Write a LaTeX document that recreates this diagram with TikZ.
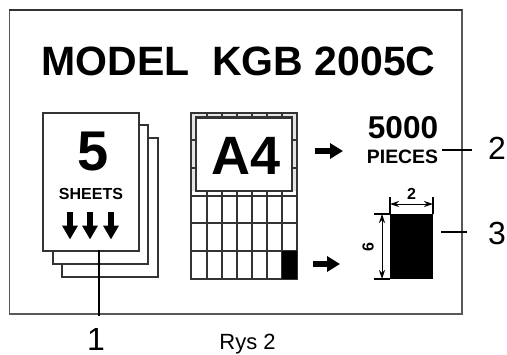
\documentclass[tikz,border=0pt]{standalone}
\usepackage{fontspec}
\setmainfont{Liberation Sans}
\usetikzlibrary{arrows.meta}
\begin{document}
\begin{tikzpicture}[%
    x=0.5pt,
    y=-0.5pt,
    line width=0.9pt,
    sheetbox/.style={draw=black!80, fill=white, line width=1.1pt},
    gridline/.style={draw=black!80, line width=1pt},
    blockarrow/.style={line width=3pt, -{Triangle[length=6.5pt, width=7.5pt]}},
    downarrow/.style={line width=3pt, -{Triangle[length=7pt, width=7.5pt]}},
    dimline/.style={line width=0.5pt, {Stealth[length=4.5pt, width=3pt]}-{Stealth[length=4.5pt, width=3pt]}},
    extline/.style={line width=0.6pt},
    bigtext/.style={inner sep=0pt, font=\fontsize{#1}{#1}\selectfont\bfseries},
    numtext/.style={inner sep=0pt, font=\fontsize{16}{16}\selectfont}
]
    % Fixes the size of the page.
    \useasboundingbox (0,0) rectangle (507,354);

    % Outer frame.
    \draw[draw=black!65, line width=0.8pt] (9.5,10) rectangle (462,314);
    \draw[draw=black!80, line width=1pt] (9,10) -- (462,10);

    % Title.
    \node[bigtext=20.5] (title) at (238.5,61.5) {MODEL\ \ KGB 2005C};

    % Stack of sheets, back to front.
    \draw[sheetbox] (62,138) rectangle (158,277);
    \draw[sheetbox] (53,125) rectangle (148,264);
    \draw[sheetbox] (43,113) rectangle (139,251);
    \coordinate (sheetfoot) at (99,250);

    \node[bigtext=28] (five) at (93,152) {5};
    \node[bigtext=8] (sheets) at (91,194) {SHEETS};

    % Three arrows below the word.
    \draw[downarrow] (70,212) -- (70,239.5);
    \draw[downarrow] (90,212) -- (90,239.5);
    \draw[downarrow] (111,212) -- (111,239.5);

    % Grey margin of the cutting grid.
    \fill[black!10] (191,113) rectangle (297,191);

    % Cutting grid.
    \draw[gridline] (191,113) rectangle (297,279);
    \draw[gridline] (207,113) -- (207,279)
                    (222,113) -- (222,279)
                    (237,113) -- (237,279)
                    (252,113) -- (252,279)
                    (267,113) -- (267,279)
                    (282,113) -- (282,279);
    \draw[gridline] (191,196) -- (297,196)
                    (191,223) -- (297,223)
                    (191,251) -- (297,251)
                    (191,140) -- (297,140)
                    (191,168) -- (297,168);

    % Large sheet on top of the grid.
    \draw[sheetbox] (196,117.5) rectangle (292,191);
    \node[bigtext=27] (afour) at (246,156) {A4};

    % Black piece in the corner of the grid.
    \fill[black] (282,251) rectangle (297,279);

    % Arrows to the results.
    \draw[blockarrow] (315,151) -- (343,151);
    \draw[blockarrow] (313,264) -- (340,264);

    % Count of pieces.
    \node[bigtext=15.8] (count) at (403,127.5) {5000};
    \node[bigtext=9.7] (pieces) at (402.5,157) {PIECES};

    % Single piece with its sizes.
    \fill[black] (390,214) rectangle (433,279);
    \draw[extline] (390,197) -- (390,214)
                   (433,197) -- (433,214)
                   (374,214) -- (390,214)
                   (374,279) -- (390,279);
    \draw[dimline] (390,204) -- (433,204);
    \draw[dimline] (382,214) -- (382,279);
    \node[bigtext=8] (width) at (411.5,194) {2};
    \node[bigtext=8, rotate=90] (height) at (368,247) {6};

    % Numbers outside the frame.
    \node[numtext] (numone) at (96,339) {1};
    \node[numtext] (numtwo) at (497,148) {2};
    \node[numtext] (numthree) at (497,233) {3};
    \node[inner sep=0pt, font=\fontsize{11}{11}\selectfont] (caption) at (247.5,344) {Rys 2};

    % Leader lines.
    \coordinate (leadone) at (99,316);
    \coordinate (leadtwoa) at (442,150);
    \coordinate (leadtwob) at (472,150);
    \coordinate (leadthreea) at (441,232);
    \coordinate (leadthreeb) at (467,232);
    \draw[line width=1.4pt] (sheetfoot) -- (leadone);
    \draw (leadtwoa) -- (leadtwob);
    \draw (leadthreea) -- (leadthreeb);
\end{tikzpicture}
\end{document}
